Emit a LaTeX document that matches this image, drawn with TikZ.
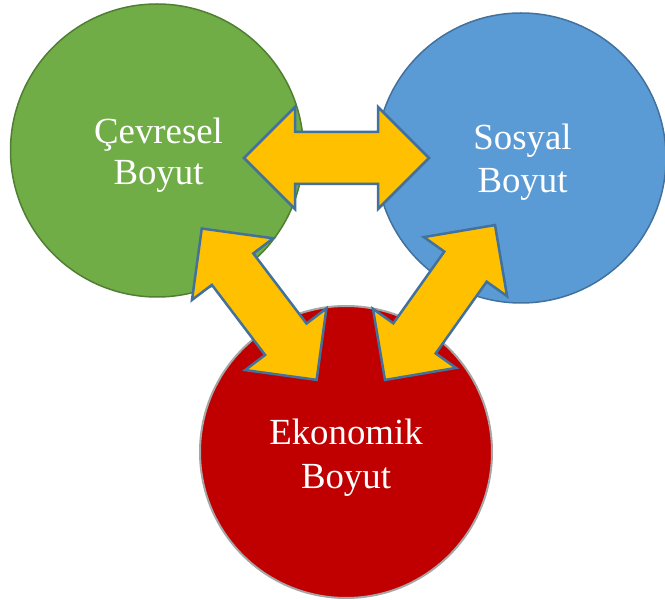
\documentclass[tikz,border=0pt]{standalone}
\usepackage{fontspec}
\setmainfont{Liberation Serif}
\definecolor{cgreen}{HTML}{70AD47}
\definecolor{cgreenedge}{HTML}{507E32}
\definecolor{cblue}{HTML}{5B9BD5}
\definecolor{cblueedge}{HTML}{41719C}
\definecolor{cred}{HTML}{C00000}
\definecolor{credge}{HTML}{A6A6A6}
\definecolor{cgold}{HTML}{FFC000}
\definecolor{carrowedge}{HTML}{41719C}
\tikzset{
  circ/.style={circle, inner sep=0pt, line width=1.5pt},
  lbl/.style={text=white, inner sep=0pt, anchor=base, font=\fontsize{36.8}{43}\selectfont},
  yarrow/.style={fill=cgold, draw=carrowedge, line width=2.5pt, line join=miter},
}
\newcommand\blockarrow[3]{%
  \draw[yarrow, shift={#1}, rotate=#2]
    (-#3,0) -- (-#3+51,51) -- (-#3+51,26) -- (#3-51,26) -- (#3-51,51) -- (#3,0)
    -- (#3-51,-51) -- (#3-51,-26) -- (-#3+51,-26) -- (-#3+51,-51) -- cycle;}
\begin{document}
\begin{tikzpicture}[x=1pt,y=1pt]
\useasboundingbox (0,0) rectangle (665,600);
\node[circ, fill=cgreen, draw=cgreenedge, minimum size=293pt] (green) at (157,449.5) {};
\node[circ, fill=cblue, draw=cblueedge, minimum size=290pt] (blue) at (521,442) {};
\node[circ, fill=cred, draw=credge, line width=2pt, minimum size=292pt] (red) at (346,148) {};
\node[lbl] (g1) at (158.5,456.7) {Çevresel};
\node[lbl] (g2) at (158.5,415.5) {Boyut};
\node[lbl] (b1) at (522.5,450) {Sosyal};
\node[lbl] (b2) at (522.5,407.3) {Boyut};
\node[lbl] (r1) at (346,155) {Ekonomik};
\node[lbl] (r2) at (346,111.7) {Boyut};
\blockarrow{(336.5,442)}{0}{92.5}
\blockarrow{(259.2,295.8)}{-52.8}{95}
\blockarrow{(440,297.5)}{54.6}{95}
\end{tikzpicture}
\end{document}
